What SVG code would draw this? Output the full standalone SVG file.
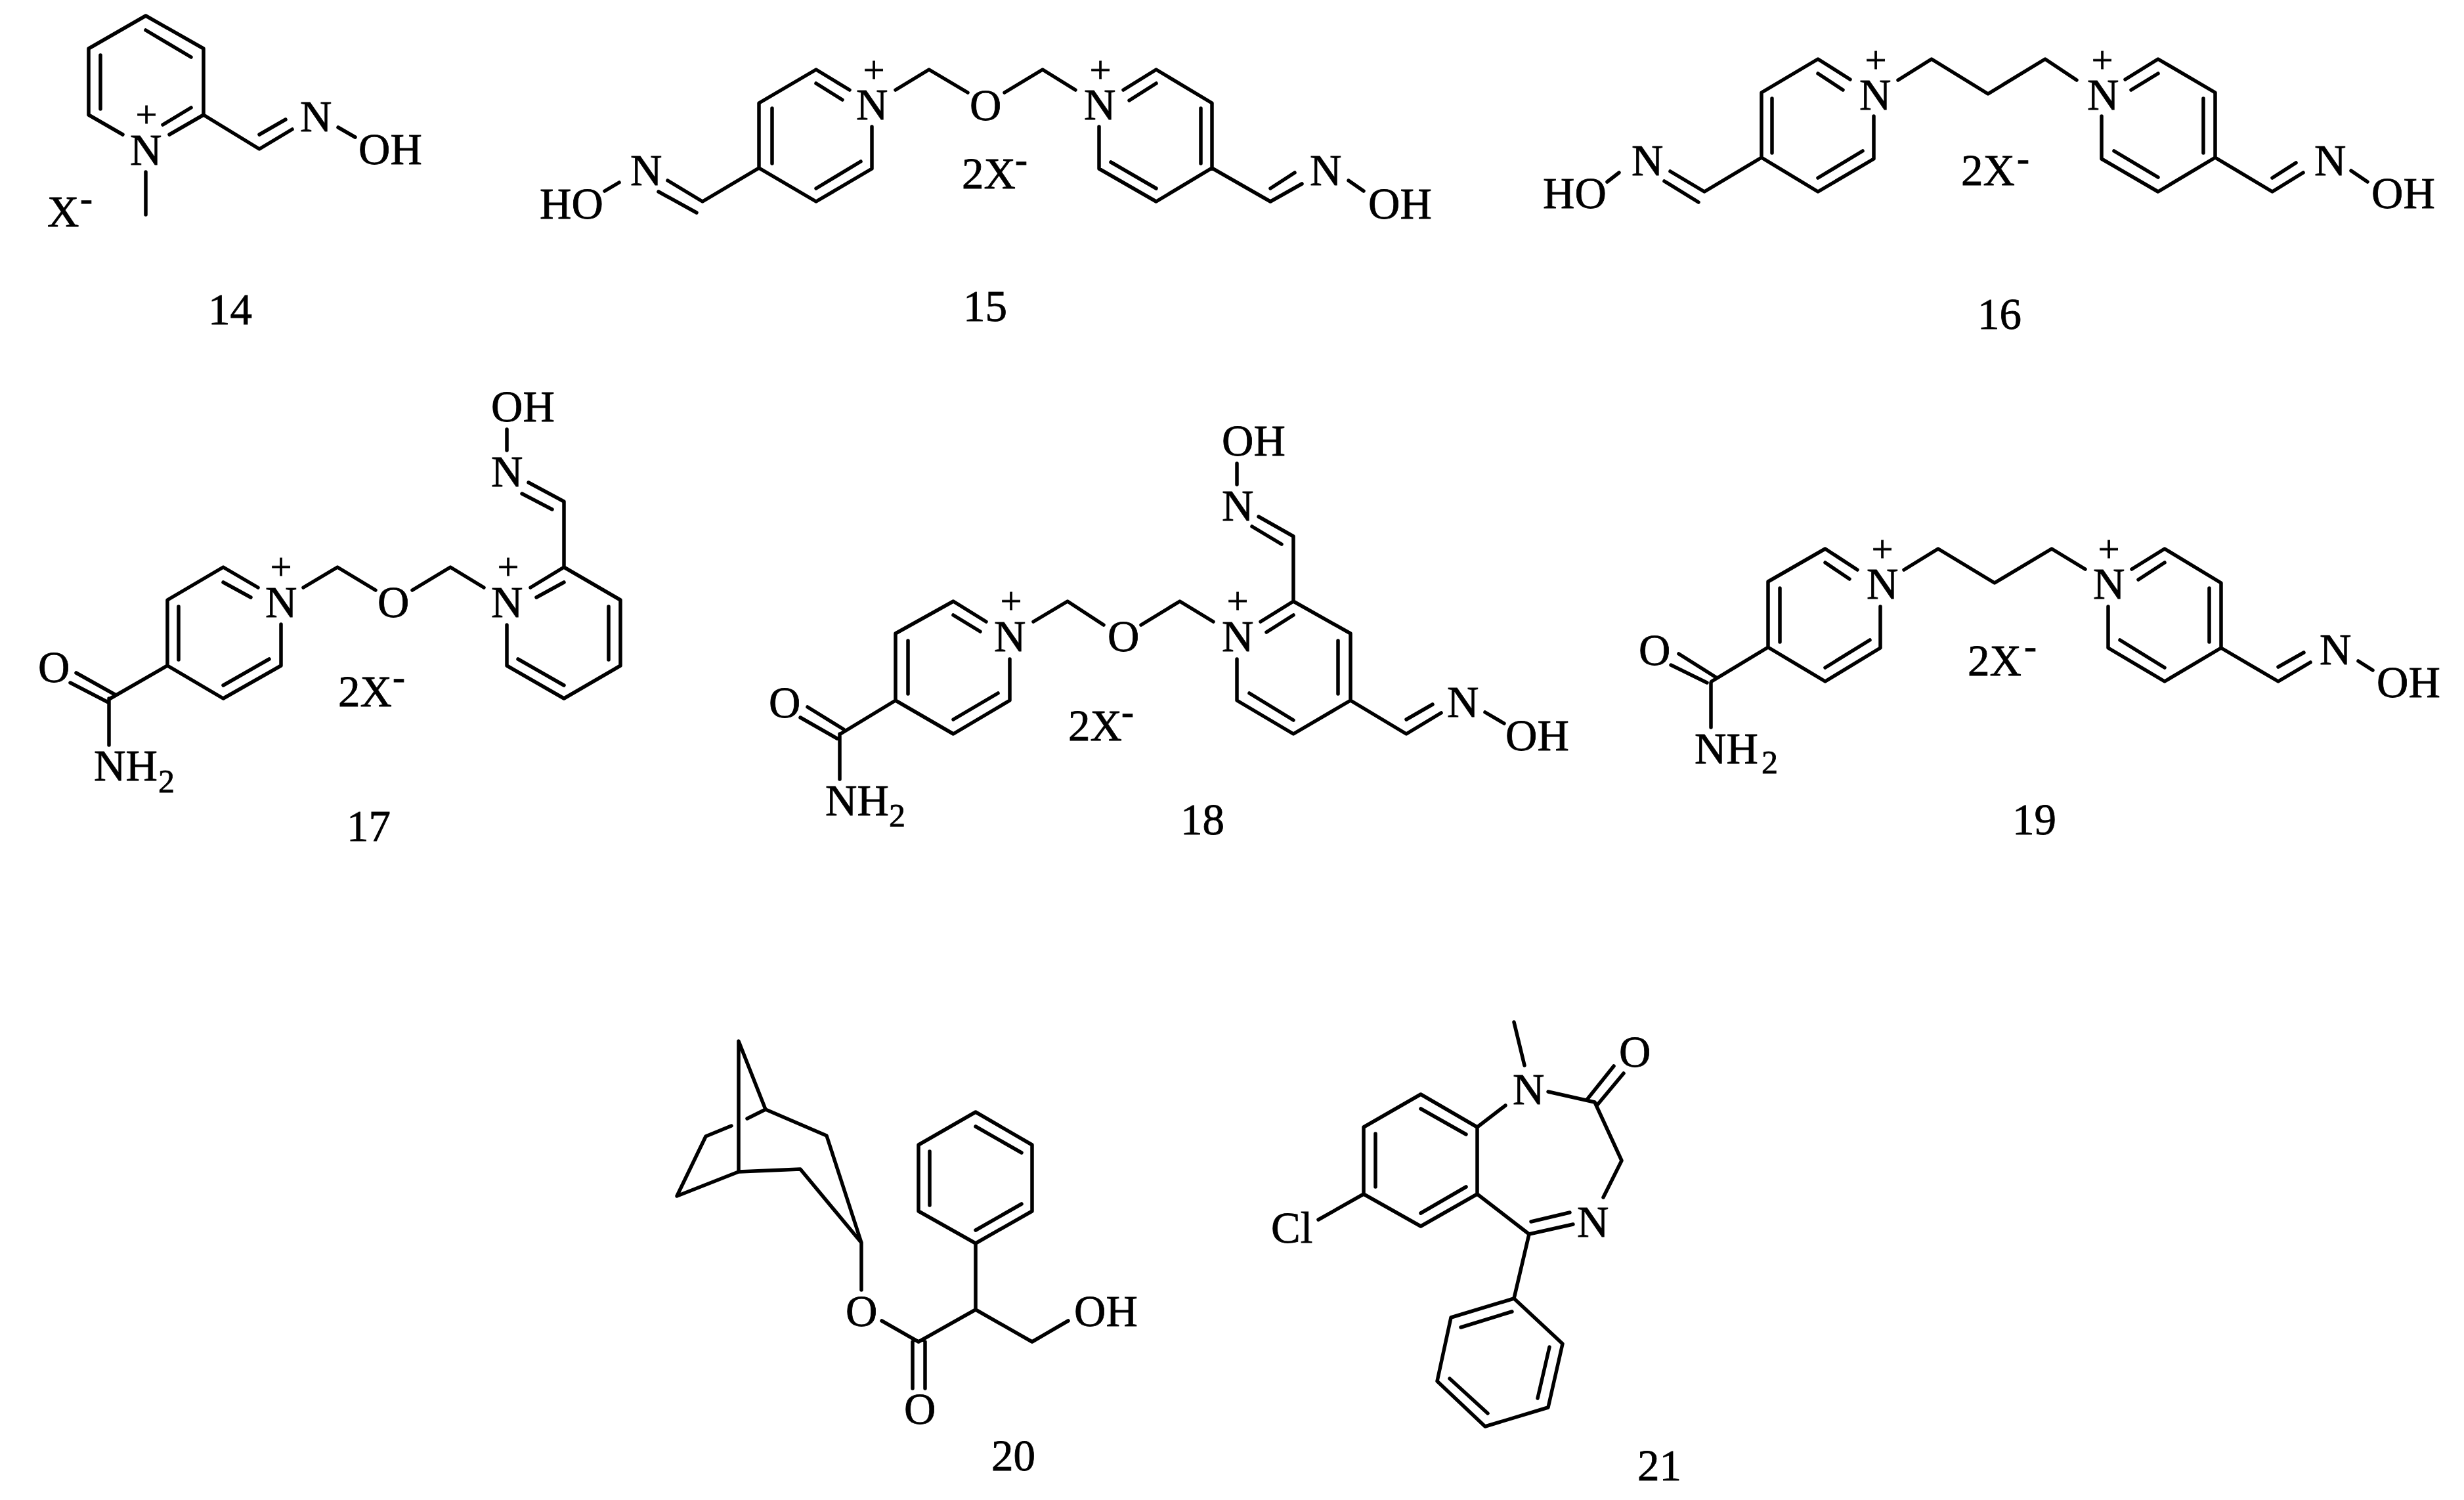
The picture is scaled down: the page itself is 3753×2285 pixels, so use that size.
<svg xmlns="http://www.w3.org/2000/svg" width="3753" height="2285" viewBox="0 0 3753 2285">
<style>
text{font-family:"Liberation Serif","Times New Roman",serif;font-size:67px;fill:#000;stroke:#000;stroke-width:.8}
.b{fill:none;stroke:#000;stroke-width:5.5;stroke-linecap:round;stroke-linejoin:round}
.p{font-size:58px;text-anchor:middle}
.m{font-size:57px}
.s{font-size:50px}
</style>
<rect width="3753" height="2285" fill="#fff"/>
<g id="compound-14">
<path class="b" d="M187 205L135 175V74L222 24L310 74V175L258 205M153 84V166M222 46L291 87M291 164L248 190M310 175L395 227L445 197M395 205L435 182M515 194L541 209M222 262V327"/>
<text x="198" y="251">N</text><text class="p" x="223" y="194">+</text>
<text x="457" y="200">N</text><text x="546" y="250">OH</text>
<text x="72" y="345">X</text><text class="m" x="122" y="321">-</text>
<text x="317" y="494">14</text>
</g>
<g id="compound-15">
<path class="b" d="M1294 137L1243 106L1156 157V256L1243 307L1328 257V193M1243 127L1283 152M1176 165V249M1311 246L1243 287M1364 137L1415 106L1474 141M1530 141L1588 106L1638 137M1674 193V257L1761 307L1846 256V157L1761 106L1711 137M1761 127L1720 153M1829 165V249M1692 247L1761 287M1156 256L1070 307L1017 275M1061 324L1003 292M943 278L921 291M1846 256L1935 307L1983 280M1935 287L1972 263M2054 275L2077 291"/>
<text x="1304" y="182">N</text><text class="p" x="1331" y="126">+</text>
<text x="1477" y="183">O</text>
<text x="1651" y="182">N</text><text class="p" x="1676" y="126">+</text>
<text x="960" y="282">N</text><text x="822" y="333">HO</text>
<text x="1995" y="282">N</text><text x="2084" y="333">OH</text>
<text x="1465" y="287">2X</text><text class="m" x="1546" y="262">-</text>
<text x="1467" y="489">15</text>
</g>
<g id="compound-16">
<path class="b" d="M2818 121L2769 90L2683 141V240L2769 292L2854 242V177M2769 112L2807 137M2699 150V233M2837 230L2769 271M2891 122L2942 90L3028 143L3115 90L3163 122M3201 177V242L3287 292L3374 240V141L3287 90L3237 121M3287 112L3246 137M3356 150V233M3220 230L3287 270M2683 240L2596 292L2544 261M2587 308L2535 276M2466 263L2448 277M3374 240L3461 292L3508 263M3461 271L3497 248M3581 260L3606 277"/>
<text x="2832" y="167">N</text><text class="p" x="2857" y="111">+</text>
<text x="3179" y="167">N</text><text class="p" x="3202" y="111">+</text>
<text x="2485" y="267">N</text><text x="2350" y="317">HO</text>
<text x="3525" y="267">N</text><text x="3612" y="317">OH</text>
<text x="2987" y="282">2X</text><text class="m" x="3072" y="260">-</text>
<text x="3012" y="501">16</text>
</g>
<g id="compound-17">
<path class="b" d="M393 895L340 864L255 914V1014L340 1064L428 1014V951M340 887L382 910M272 924V1005M410 1004L340 1044M462 895L514 864L572 899M628 899L686 864L737 895M772 952V1014L859 1064L945 1014V914L859 864L808 895M859 887L817 910M927 924V1005M789 1004L859 1044M859 864V764L805 735M841 776L795 752M772 686V654M255 1014L168 1064M175 1058L116 1025M165 1070L107 1040M166 1064V1135"/>
<text x="404" y="940">N</text><text class="p" x="428" y="883">+</text>
<text x="575" y="940">O</text>
<text x="748" y="940">N</text><text class="p" x="774" y="883">+</text>
<text x="748" y="741">N</text><text x="748" y="642">OH</text>
<text x="58" y="1039">O</text>
<text x="143" y="1189">NH</text><text class="s" x="241" y="1207">2</text>
<text x="515" y="1076">2X</text><text class="m" x="598" y="1050">-</text>
<text x="528" y="1281">17</text>
</g>
<g id="compound-18">
<path class="b" d="M1502 947L1452 916L1364 965V1067L1452 1118L1538 1067V1004M1452 937L1493 962M1383 976V1057M1520 1056L1452 1096M1574 947L1626 916L1681 952M1738 952L1797 916L1848 947M1884 1004V1067L1970 1118L2057 1067V965L1970 916L1920 947M1970 937L1929 963M2038 976V1057M1903 1056L1970 1097M1970 916V817L1917 787M1952 829L1907 802M1884 738V706M2057 1067L2142 1118L2195 1086M2142 1096L2182 1073M2262 1085L2291 1102M1364 1067L1280 1118M1285 1111L1230 1077M1275 1125L1219 1093M1279 1118V1187"/>
<text x="1514" y="992">N</text><text class="p" x="1540" y="935">+</text>
<text x="1687" y="992">O</text>
<text x="1861" y="992">N</text><text class="p" x="1885" y="935">+</text>
<text x="1861" y="793">N</text><text x="1861" y="694">OH</text>
<text x="2204" y="1092">N</text><text x="2293" y="1143">OH</text>
<text x="1171" y="1093">O</text>
<text x="1257" y="1242">NH</text><text class="s" x="1354" y="1259">2</text>
<text x="1627" y="1128">2X</text><text class="m" x="1708" y="1103">-</text>
<text x="1798" y="1271">18</text>
</g>
<g id="compound-19">
<path class="b" d="M2829 868L2780 836L2693 886V986L2780 1038L2864 987V924M2780 857L2817 882M2711 896V978M2848 975L2780 1017M2900 868L2952 836L3038 888L3125 836L3176 867M3211 924V987L3297 1038L3383 987V888L3297 836L3247 867M3297 857L3257 883M3365 896V978M3229 975L3297 1017M3383 987L3470 1038L3519 1009M3470 1016L3509 994M3592 1007L3614 1021M2693 986L2607 1038M2614 1032L2557 996M2600 1040L2545 1013M2606 1040V1108"/>
<text x="2843" y="912">N</text><text class="p" x="2867" y="856">+</text>
<text x="3188" y="912">N</text><text class="p" x="3212" y="856">+</text>
<text x="3533" y="1012">N</text><text x="3620" y="1062">OH</text>
<text x="2496" y="1013">O</text>
<text x="2581" y="1163">NH</text><text class="s" x="2683" y="1178">2</text>
<text x="2997" y="1029">2X</text><text class="m" x="3083" y="1003">-</text>
<text x="3065" y="1271">19</text>
</g>
<g id="compound-20">
<path class="b" d="M1125 1785V1586L1166 1690L1259 1730L1312 1893L1219 1781L1125 1785L1031 1822L1075 1731L1114 1715M1138 1704L1166 1690M1312 1893V1965M1343 2012L1399 2044L1486 1995L1572 2044L1627 2012M1390 2044V2115M1409 2044V2115M1486 1995V1894L1572 1845V1744L1486 1694L1399 1744V1845L1486 1894M1486 1716L1556 1756M1416 1754V1836M1556 1834L1486 1874"/>
<text x="1288" y="2020">O</text>
<text x="1636" y="2020">OH</text>
<text x="1377" y="2169">O</text>
<text x="1510" y="2240">20</text>
</g>
<g id="compound-21">
<path class="b" d="M2250 1717L2164 1667L2077 1717V1819L2164 1868L2250 1819V1717L2293 1684M2164 1689L2233 1728M2095 1727V1808M2233 1808L2164 1848M2077 1819L2008 1858M2322 1623L2306 1557M2358 1663L2429 1679L2470 1768L2442 1824M2418 1674L2458 1624M2433 1683L2473 1635M2250 1819L2329 1880L2396 1865M2332 1861L2391 1847M2329 1880L2306 1978L2380 2047L2358 2144L2262 2173L2189 2104L2210 2007L2306 1978M2303 1998L2225 2022M2360 2052L2342 2130M2266 2153L2208 2100"/>
<text x="1936" y="1893">Cl</text>
<text x="2304" y="1682">N</text>
<text x="2466" y="1625">O</text>
<text x="2402" y="1884">N</text>
<text x="2494" y="2255">21</text>
</g>
</svg>
